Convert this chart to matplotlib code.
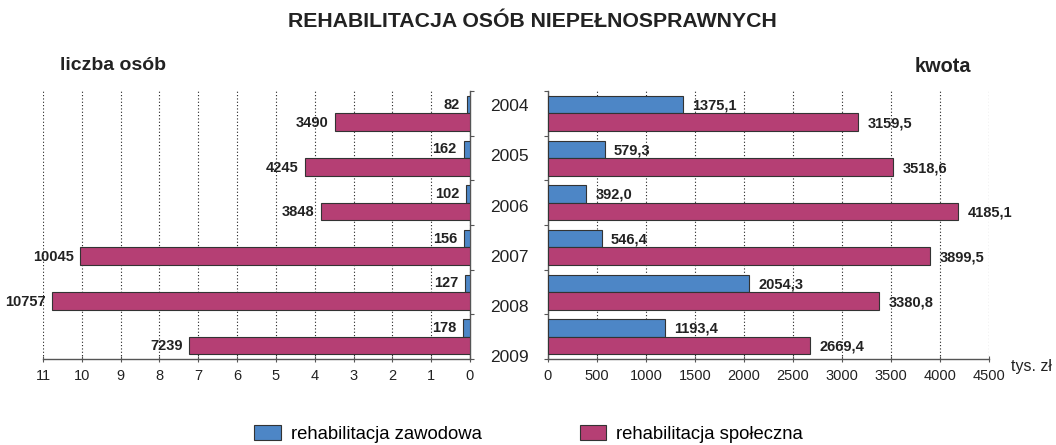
import matplotlib
matplotlib.use("Agg")
import matplotlib.pyplot as plt
from matplotlib.patches import Patch
import numpy as np

years = ["2004", "2005", "2006", "2007", "2008", "2009"]
osoby_zawodowa = [82, 162, 102, 156, 127, 178]
osoby_spoleczna = [3490, 4245, 3848, 10045, 10757, 7239]
kwota_zawodowa = [1375.1, 579.3, 392.0, 546.4, 2054.3, 1193.4]
kwota_spoleczna = [3159.5, 3518.6, 4185.1, 3899.5, 3380.8, 2669.4]
left_ticks = list(range(0, 12))
right_ticks = list(range(0, 5000, 500))

BLUE = "#4d86c6"
PINK = "#b53f74"
EDGE = "#333333"
SPINE = "#555555"
TXT = "#222222"
REG = ["Liberation Sans", "DejaVu Sans"]

plt.rcParams["font.family"] = REG

fig = plt.figure(figsize=(10.56, 4.45), dpi=100)
W, H = 1056, 445

def ax_rect(x0, x1, ytop, ybot):
    return [x0 / W, 1 - ybot / H, (x1 - x0) / W, (ybot - ytop) / H]

axL = fig.add_axes(ax_rect(43, 470, 91, 359))
axR = fig.add_axes(ax_rect(548, 989, 91, 359))
axM = fig.add_axes(ax_rect(470, 548, 106.5, 358))

n = len(years)
idx = np.arange(n)
bh = 0.39
yb = idx + 0.113 + bh / 2
yp = idx + 0.113 + bh + bh / 2

VFS = 10.5

# Left panel (thousands of persons)
lz = np.array(osoby_zawodowa) / 1000
ls = np.array(osoby_spoleczna) / 1000
axL.barh(yb, lz, height=bh, color=BLUE, edgecolor=EDGE, linewidth=0.8, zorder=3)
axL.barh(yp, ls, height=bh, color=PINK, edgecolor=EDGE, linewidth=0.8, zorder=3)
axL.set_xlim(11, 0)
axL.set_ylim(n, 0)
for y, v, raw in zip(yb, lz, osoby_zawodowa):
    axL.annotate(f"{raw}", (v, y), xytext=(-5, 0), textcoords="offset points",
                 ha="right", va="center", fontsize=VFS, fontweight="bold",
                 color=TXT, zorder=4)
for y, v, raw in zip(yp, ls, osoby_spoleczna):
    axL.annotate(f"{raw}", (v, y), xytext=(-4.5, -0.5), textcoords="offset points",
                 ha="right", va="center", fontsize=VFS, fontweight="bold",
                 color=TXT, zorder=4)

# Right panel (thousands PLN)
axR.barh(yb, kwota_zawodowa, height=bh, color=BLUE, edgecolor=EDGE, linewidth=0.8, zorder=3)
axR.barh(yp, kwota_spoleczna, height=bh, color=PINK, edgecolor=EDGE, linewidth=0.8, zorder=3)
axR.set_xlim(0, 4500)
axR.set_ylim(n, 0)
fmt = lambda v: f"{v:.1f}".replace(".", ",")
for y, v in zip(yb, kwota_zawodowa):
    axR.annotate(fmt(v), (v, y), xytext=(6.5, -0.5), textcoords="offset points",
                 ha="left", va="center", fontsize=VFS, fontweight="bold",
                 color=TXT, zorder=4)
for y, v in zip(yp, kwota_spoleczna):
    axR.annotate(fmt(v), (v, y), xytext=(7, -1), textcoords="offset points",
                 ha="left", va="center", fontsize=VFS, fontweight="bold",
                 color=TXT, zorder=4)

for ax, ticks in ((axL, left_ticks), (axR, right_ticks)):
    ax.set_xticks(ticks)
    ax.set_xticklabels([str(t) for t in ticks], fontsize=10.5, color=TXT)
    ax.set_yticks(range(n + 1))
    ax.set_yticklabels([])
    ax.xaxis.grid(True, linestyle=(0, (1, 2)), color=TXT, linewidth=0.8, zorder=0)
    ax.set_axisbelow(True)
    ax.spines["top"].set_visible(False)
    ax.tick_params(axis="x", direction="inout", length=5, color=SPINE, pad=5)
    ax.tick_params(axis="y", direction="out", length=3, color=SPINE)
    for s in ax.spines.values():
        s.set_color(SPINE)
        s.set_linewidth(1.0)

axL.spines["left"].set_visible(False)
axL.yaxis.tick_right()
axR.spines["right"].set_visible(False)

axM.set_ylim(n - 1, 0)
axM.set_xlim(0, 1)
axM.axis("off")
for i, yr in enumerate(years):
    axM.text(0.5, i, yr, ha="center", va="center", fontsize=12.5, color=TXT)

fig.text(532.5 / W, 1 - 21.5 / H, "REHABILITACJA OSÓB NIEPEŁNOSPRAWNYCH",
         ha="center", va="center", fontsize=15.3, fontweight="bold", color=TXT)
fig.text(60 / W, 1 - 66 / H, "liczba osób", ha="left", va="center",
         fontsize=14, fontweight="bold", color=TXT)
fig.text(971 / W, 1 - 66 / H, "kwota", ha="right", va="center",
         fontsize=14.3, fontweight="bold", color=TXT)
fig.text(1011 / W, 1 - 366 / H, "tys. zł", ha="left", va="center",
         fontsize=11.5, color=TXT)

handles = [Patch(facecolor=BLUE, edgecolor=EDGE, linewidth=0.8, label="rehabilitacja zawodowa"),
           Patch(facecolor=PINK, edgecolor=EDGE, linewidth=0.8, label="rehabilitacja społeczna")]
fig.legend(handles=handles, loc="center", bbox_to_anchor=(528.5 / W, 1 - 434 / H), ncol=2,
           frameon=False, fontsize=13.3, handlelength=1.42, handleheight=0.88,
           handletextpad=0.55, columnspacing=5.3)

fig.savefig("out.png", dpi=100)
